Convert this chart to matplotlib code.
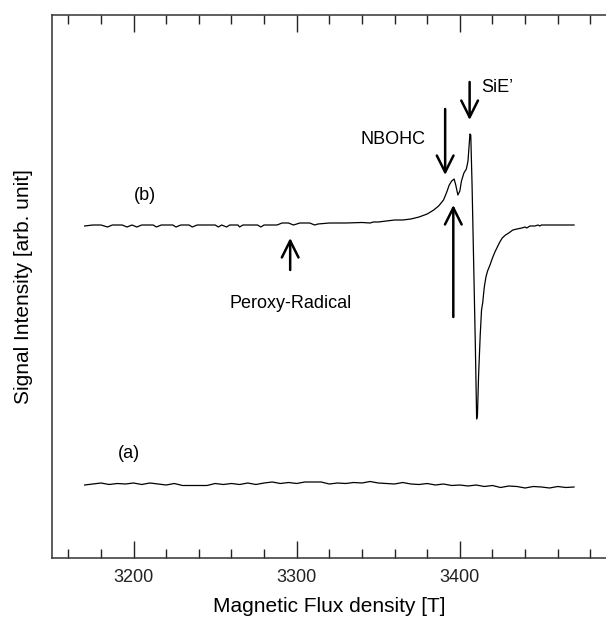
import matplotlib
matplotlib.use('Agg')
import matplotlib.pyplot as plt
from matplotlib.ticker import MultipleLocator

plt.rcParams['font.family'] = ['Liberation Sans', 'DejaVu Sans']

# ESR spectrum (a): before irradiation, just noise
field_a = [3170, 3175, 3180, 3185, 3190, 3195, 3200, 3205, 3210, 3215,
           3220, 3225, 3230, 3235, 3240, 3245, 3250, 3255, 3260, 3265,
           3270, 3275, 3280, 3285, 3290, 3295, 3300, 3305, 3310, 3315,
           3320, 3325, 3330, 3335, 3340, 3345, 3350, 3355, 3360, 3365,
           3370, 3375, 3380, 3385, 3390, 3395, 3400, 3405, 3410, 3415,
           3420, 3425, 3430, 3435, 3440, 3445, 3450, 3455, 3460, 3465, 3470]
signal_a = [-260, -259, -258, -259.5, -258.5, -259, -258, -259.5, -258, -259,
            -260, -258.5, -260.5, -260.5, -260.5, -260.5, -258.5, -259.5, -258.5, -259.5,
            -258, -259.5, -258, -257, -258.5, -257.5, -258.5, -257, -257, -257,
            -259, -258, -258.5, -257.5, -258, -256.5, -258, -258.5, -259, -257.5,
            -259, -259.5, -258.5, -260, -259, -260.5, -260, -261, -260, -261.5,
            -260.5, -262.5, -261, -261.5, -263, -261.5, -262, -263, -261.5, -262.5, -262]

# ESR spectrum (b): after irradiation
field_b = [3170, 3175, 3180, 3184, 3187, 3193, 3196, 3199, 3202, 3205,
           3212, 3214, 3217, 3224, 3226, 3229, 3234, 3236, 3239, 3245,
           3250, 3252, 3254, 3257, 3259, 3264, 3265, 3267, 3276, 3278,
           3280, 3288, 3291, 3295, 3298, 3302, 3308, 3311, 3313, 3320,
           3330, 3340, 3345, 3347, 3350, 3355, 3360, 3365, 3370, 3375,
           3380, 3384, 3387, 3390, 3392, 3393.5, 3395, 3396.5, 3397.5, 3398.8,
           3400, 3401, 3402.5, 3404, 3405, 3405.8, 3406.2, 3406.7, 3407.5, 3408.5,
           3409.5, 3410.3, 3410.8, 3411.5, 3412.5, 3413.3, 3414, 3415, 3416, 3417,
           3418.5, 3420, 3421.5, 3423, 3424.5, 3426, 3428, 3430, 3432.5, 3435,
           3438, 3440, 3441, 3443, 3446, 3448, 3449, 3450, 3455, 3460, 3465, 3470]
signal_b = [-1, 0, 0, -2, 0, 0, -2, 0, -2, 0,
            0, -2, 0, 0, -2, 0, 0, -2, 0, 0,
            0, -2, 0, -2, 0, 0, -2, 0, 0, -2,
            0, 0, 2, 2, 0, 2, 2, 0, 1, 2,
            2, 2.5, 2, 3, 3, 4, 5, 5, 6, 8,
            11, 15, 19, 25, 33, 40, 44, 46, 40, 30,
            34, 44, 52, 56, 64, 82, 91, 90, 40, -40,
            -120, -194, -190, -150, -110, -85, -78, -62, -52, -46,
            -40, -33, -27, -22, -17, -13, -10, -8, -5, -4,
            -3, -2, -3, -1, -1, 0, -1, 0, 0, 0, 0, 0]

# curve labels: (text, x, y)
curve_labels = [('(b)', 3207, 30), ('(a)', 3197, -228)]
peroxy_field = 3296
nbohc_field = 3391
nbohc_up_field = 3396
sie_field = 3406

fig = plt.figure(figsize=(6.06, 6.22), dpi=100)
ax = fig.add_axes([52 / 606, 64 / 622, 1 - 52 / 606, 543 / 622])

ax.plot(field_b, signal_b, color='black', lw=0.9)
ax.plot(field_a, signal_a, color='black', lw=0.9)

ax.set_xlim(3150, 3489.6)
ax.set_ylim(-333, 210)

arrow = dict(arrowstyle='->,head_length=0.6,head_width=0.3', lw=1.8,
             color='black', shrinkA=0, shrinkB=0, mutation_scale=20)
ax.annotate('', xy=(peroxy_field, -13), xytext=(peroxy_field, -45), arrowprops=arrow)
ax.annotate('', xy=(nbohc_field, 50), xytext=(nbohc_field, 116), arrowprops=arrow)
ax.annotate('', xy=(nbohc_up_field, 20), xytext=(nbohc_up_field, -92), arrowprops=arrow)
ax.annotate('', xy=(sie_field, 105), xytext=(sie_field, 143), arrowprops=arrow)

ax.text(peroxy_field, -78, 'Peroxy-Radical', fontsize=13, ha='center', va='center')
ax.text(3379, 85, 'NBOHC', fontsize=13, ha='right', va='center')
ax.text(3413, 137, "SiE’", fontsize=13, ha='left', va='center')
for txt, x, y in curve_labels:
    ax.text(x, y, txt, fontsize=13, ha='center', va='center')

ax.xaxis.set_major_locator(MultipleLocator(100))
ax.xaxis.set_minor_locator(MultipleLocator(20))
ax.tick_params(axis='x', which='both', direction='in', top=True, bottom=True,
               labelsize=13, colors='#222222', pad=8)
ax.tick_params(axis='x', which='major', length=12, width=1)
ax.tick_params(axis='x', which='minor', length=6.5, width=1)
ax.set_yticks([])
ax.spines['right'].set_visible(False)
for s in ['left', 'top', 'bottom']:
    ax.spines[s].set_color('#333333')
    ax.spines[s].set_linewidth(1.1)

ax.set_xlabel('Magnetic Flux density [T]', fontsize=15, labelpad=8)
ax.set_ylabel('Signal Intensity [arb. unit]', fontsize=15, labelpad=14)

fig.savefig('out.png', dpi=100)
